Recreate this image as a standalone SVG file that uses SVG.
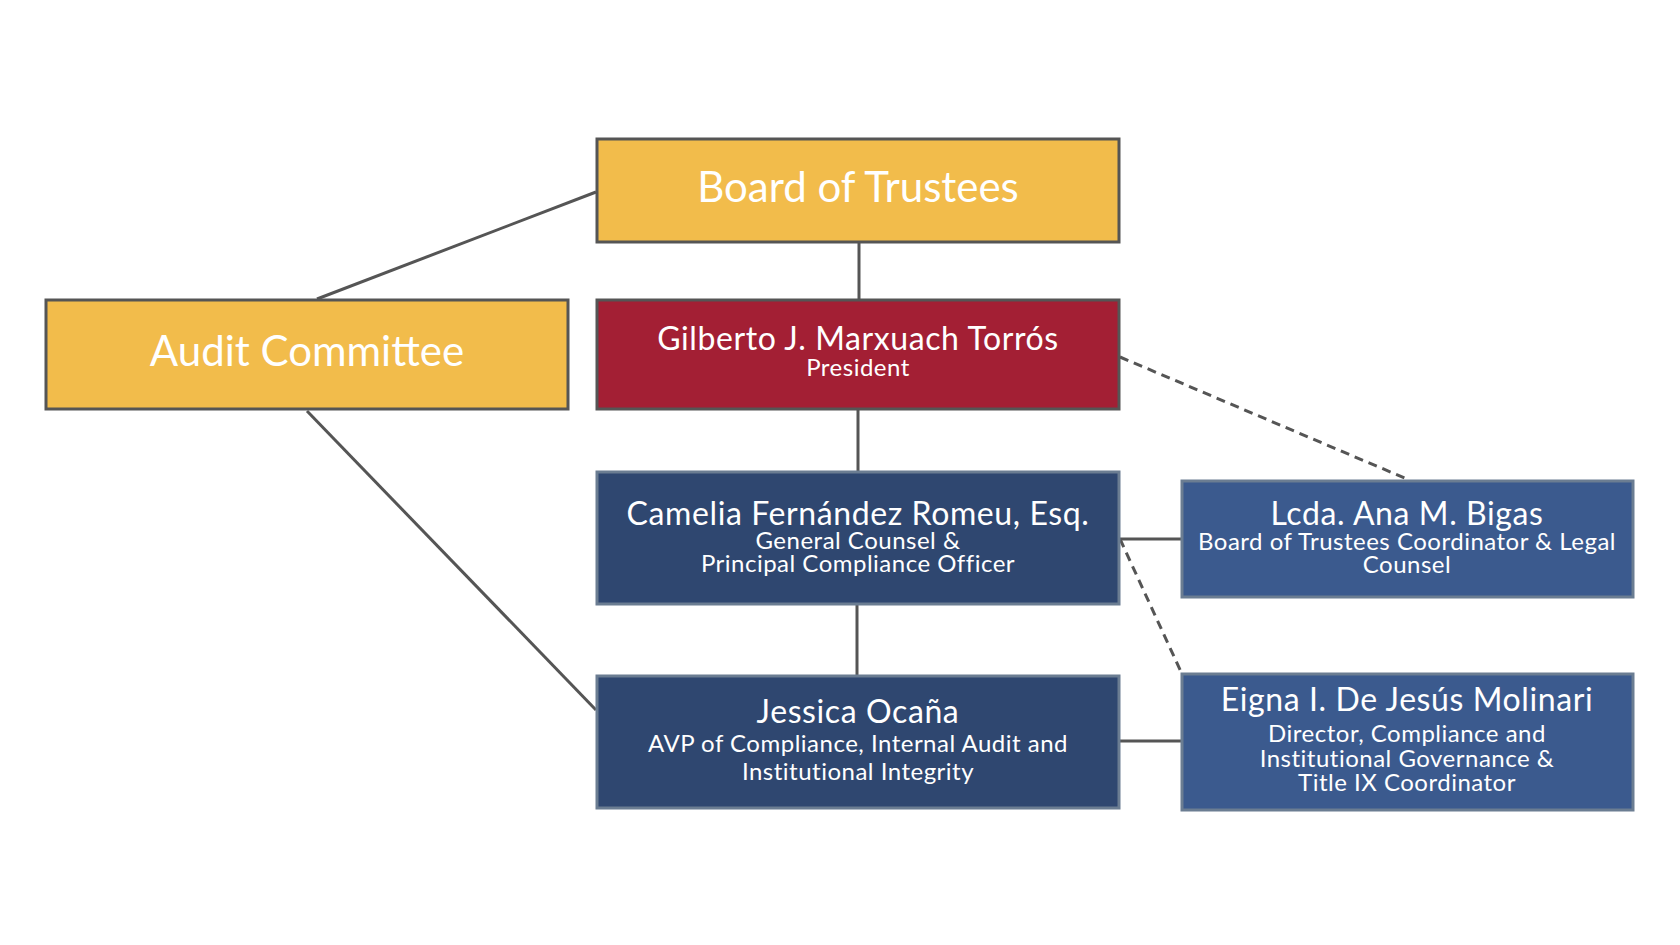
<svg xmlns="http://www.w3.org/2000/svg" width="1680" height="945" viewBox="0 0 1680 945">
<style>
text{font-family:Lato,"Noto Sans","Liberation Sans",sans-serif;fill:#fff;text-anchor:middle}
.big{font-size:42px}.nm{font-size:32px;letter-spacing:0.6px}.sb{font-size:24px;letter-spacing:0.5px}
.gold{fill:#F2BC4B;stroke:#555;stroke-width:3}
.red{fill:#A31F34;stroke:#555;stroke-width:3}
.navy{fill:#2F4770;stroke:#6B7D92;stroke-width:3}
.blue{fill:#3B5A8E;stroke:#6B7D92;stroke-width:3}
.ln{stroke:#555;stroke-width:3;fill:none}
.ds{stroke:#555;stroke-width:3;fill:none;stroke-dasharray:9,6}
</style>
<rect width="1680" height="945" fill="#fff"/>
<g id="connectors">
<line class="ln" x1="317" y1="299" x2="596" y2="192"/>
<line class="ln" x1="307" y1="411" x2="596" y2="710"/>
<line class="ln" x1="859" y1="242" x2="859" y2="300"/>
<line class="ln" x1="858" y1="409" x2="858" y2="472"/>
<line class="ln" x1="857" y1="604" x2="857" y2="676"/>
<line class="ln" x1="1119" y1="539" x2="1182" y2="539"/>
<line class="ln" x1="1119" y1="741" x2="1182" y2="741"/>
<line class="ds" x1="1120" y1="357" x2="1407" y2="479"/>
<line class="ds" x1="1120" y1="539" x2="1182" y2="674"/>
</g>
<g id="board"><rect class="gold" x="597" y="139" width="522" height="103"/><text class="big" x="858" y="202">Board of Trustees</text></g>
<g id="audit"><rect class="gold" x="46" y="300" width="522" height="109"/><text class="big" x="307" y="366">Audit Committee</text></g>
<g id="president"><rect class="red" x="597" y="300" width="522" height="109"/><text class="nm" x="858" y="350">Gilberto J. Marxuach Torrós</text><text class="sb" x="858" y="376">President</text></g>
<g id="camelia"><rect class="navy" x="597" y="472" width="522" height="132"/><text class="nm" x="858" y="525">Camelia Fernández Romeu, Esq.</text><text class="sb" x="858" y="549">General Counsel &amp;</text><text class="sb" x="858" y="572">Principal Compliance Officer</text></g>
<g id="jessica"><rect class="navy" x="597" y="676" width="522" height="132"/><text class="nm" x="858" y="723">Jessica Ocaña</text><text class="sb" x="858" y="752">AVP of Compliance, Internal Audit and</text><text class="sb" x="858" y="780">Institutional Integrity</text></g>
<g id="ana"><rect class="blue" x="1182" y="481" width="451" height="116"/><text class="nm" x="1407" y="525">Lcda. Ana M. Bigas</text><text class="sb" x="1407" y="550">Board of Trustees Coordinator &amp; Legal</text><text class="sb" x="1407" y="573">Counsel</text></g>
<g id="eigna"><rect class="blue" x="1182" y="674" width="451" height="136"/><text class="nm" x="1407" y="711">Eigna I. De Jesús Molinari</text><text class="sb" x="1407" y="742">Director, Compliance and</text><text class="sb" x="1407" y="767">Institutional Governance &amp;</text><text class="sb" x="1407" y="791">Title IX Coordinator</text></g>
</svg>
